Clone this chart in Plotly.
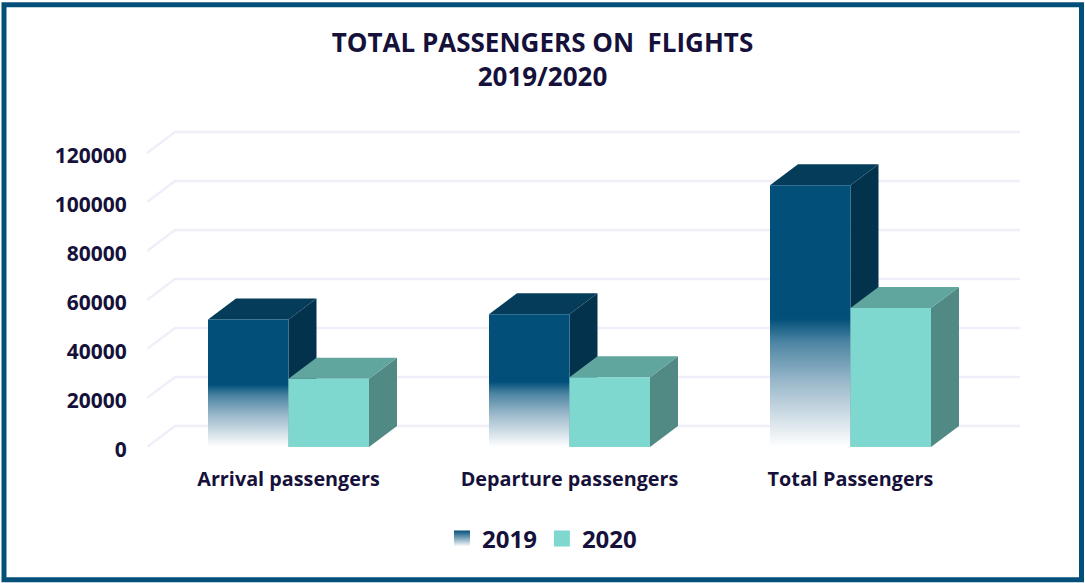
import plotly.graph_objects as go

categories = ["Arrival passengers", "Departure passengers", "Total Passengers"]
series_names = ["2019", "2020"]
values_2019 = [52000, 54200, 106800]
values_2020 = [27900, 28500, 56700]
y_ticks = [0, 20000, 40000, 60000, 80000, 100000, 120000]

W, H = 1085, 583
L, R, T, B = 147, 1020, 125, 447.5
CAT_PX = 281.0
ORIGIN_PX = 288.5
VAL_PX = 294.5 / 120000
BAR_W = 80.5 / CAT_PX
DX = 28 / CAT_PX
DY = 21 / VAL_PX
x_rng = [(L - ORIGIN_PX) / CAT_PX, (R - ORIGIN_PX) / CAT_PX]
y_rng = [0, (B - T) / VAL_PX]

NAVY = "#02507a"
TEXT = "#15113a"
styles = {
    "2019": dict(top="#043c5a", side="#03334c",
                 scale=[[0, "rgba(255,255,255,1)"], [0.08, "#dfe8ee"], [0.25, "#9ab8ca"],
                        [0.40, "#4d85a3"], [0.49, NAVY], [1, NAVY]]),
    "2020": dict(top="#60a59e", side="#518a84", scale=[[0, "#7fd8d0"], [1, "#7fd8d0"]]),
}

fig = go.Figure()


def poly(xs, ys, color=None, grad=None):
    kw = dict(fillgradient=dict(type="vertical", colorscale=grad)) if grad else dict(fillcolor=color)
    fig.add_trace(go.Scatter(x=xs + xs[:1], y=ys + ys[:1], mode="lines", line=dict(width=0),
                             fill="toself", showlegend=False, hoverinfo="skip", cliponaxis=False, **kw))


# oblique wall and floor grid
for v in y_ticks:
    fig.add_trace(go.Scatter(x=[x_rng[0], x_rng[0] + DX, x_rng[1]], y=[v, v + DY, v + DY], mode="lines",
                             line=dict(color="#f0eef9", width=2.5), showlegend=False,
                             hoverinfo="skip", cliponaxis=False))

# 3D columns, drawn category by category so that 2020 overlaps the side of 2019
for i in range(len(categories)):
    for name, vals, x0 in (("2019", values_2019, i - BAR_W), ("2020", values_2020, i)):
        v = vals[i]
        x1 = x0 + BAR_W
        s = styles[name]
        poly([x1, x1 + DX, x1 + DX, x1], [0, DY, v + DY, v], color=s["side"])
        poly([x0, x1, x1 + DX, x0 + DX], [v, v, v + DY, v + DY], color=s["top"])
        poly([x0, x1, x1, x0], [0, 0, v, v], grad=s["scale"])

# legend entries
fig.add_trace(go.Scatter(x=[None], y=[None], mode="markers", name=series_names[0],
                         marker=dict(symbol="square", size=16, color=NAVY,
                                     gradient=dict(type="vertical", color="#ffffff"))))
fig.add_trace(go.Scatter(x=[None], y=[None], mode="markers", name=series_names[1],
                         marker=dict(symbol="square", size=16, color="#7fd8d0")))

# frame
px = lambda p: (p - L) / (R - L)
py = lambda p: (B - p) / (B - T)
fig.add_shape(type="rect", xref="paper", yref="paper", x0=px(4), x1=px(1081.5), y0=py(4.5), y1=py(580.5),
              line=dict(color=NAVY, width=5), fillcolor="rgba(0,0,0,0)", layer="above")

fig.update_layout(
    width=W, height=H, autosize=False,
    margin=dict(l=L, r=W - R, t=T, b=H - B, pad=0),
    paper_bgcolor="white", plot_bgcolor="white",
    font=dict(family="Open Sans", color=TEXT),
    title=dict(text="<b>TOTAL PASSENGERS ON \u00a0FLIGHTS<br>2019/2020</b>", x=542.5 / W, xanchor="center",
               y=1 - 52 / H, yanchor="top", font=dict(size=26, color=TEXT, family="Open Sans")),
    xaxis=dict(range=x_rng, tickvals=list(range(len(categories))), ticktext=[f"<b>{c}</b>" for c in categories],
               showgrid=False, zeroline=False, showline=False, ticks="outside", ticklen=14,
               tickcolor="rgba(0,0,0,0)", tickfont=dict(size=19.8, color=TEXT)),
    yaxis=dict(range=y_rng, tickvals=y_ticks, ticktext=[f"<b>{v}</b>" for v in y_ticks],
               showgrid=False, zeroline=False, showline=False, ticks="outside", ticklen=15,
               tickcolor="rgba(0,0,0,0)", tickfont=dict(size=21, color=TEXT), ticklabelshift=3),
    legend=dict(orientation="h", x=px(542), xanchor="center", y=py(517), yanchor="top",
                font=dict(size=24, color=TEXT, weight="bold"), itemsizing="trace",
                itemwidth=30, bgcolor="rgba(0,0,0,0)"),
    showlegend=True,
)
fig.write_html("out.html", config={"displayModeBar": False},
               post_script="document.body.style.margin='0';document.documentElement.style.overflow='hidden';")
